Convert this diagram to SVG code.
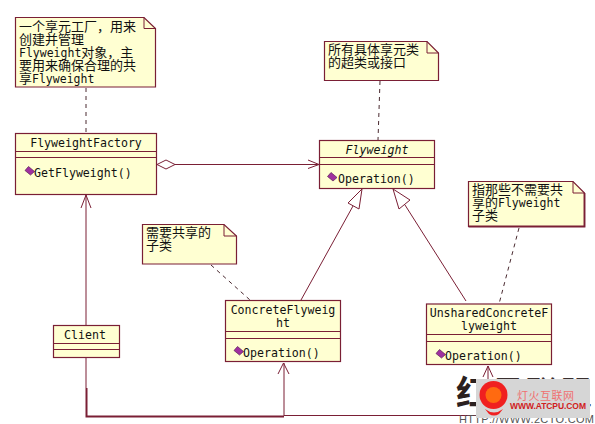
<svg xmlns="http://www.w3.org/2000/svg" width="595" height="424" viewBox="0 0 595 424">
<style>
.box{fill:#ffffd2;stroke:#7a1f35;stroke-width:1.2}
.ln{fill:none;stroke:#7a1f35;stroke-width:1}
.tri{fill:#fff;stroke:#7a1f35;stroke-width:1}
.dash{fill:none;stroke:#4a2a30;stroke-width:1;stroke-dasharray:4 4}
.t{font-family:"DejaVu Sans Mono","Noto Sans CJK SC",monospace;font-size:11.6px;fill:#111}
.n{font-family:"Noto Sans CJK SC","DejaVu Sans Mono",monospace;font-size:13px;fill:#111}
.l{font-family:"DejaVu Sans Mono",monospace;font-size:11.5px}
.m{text-anchor:middle}
.d{fill:#a030a0;stroke:#5a1f55;stroke-width:.7}
</style>
<defs>
<path id="op" class="d" d="M-1 -4.500L5 0.500L1 4L-4.500 -0.500Z"/>
</defs>
<rect width="595" height="424" fill="#fff"/>
<g id="connectors">
<path class="dash" d="M86 88V133"/>
<path class="dash" d="M380 81L378 140"/>
<path class="dash" d="M211 265L250 300"/>
<path class="dash" d="M519 228L499 304"/>
<path class="tri" d="M157 164.500L166 160L175 164.500L166 169Z"/>
<path class="ln" d="M175 164.500H318M308 160L319 164.500L308 168.500"/>
<path class="ln" d="M86 325V195M81 208L86 195L91 208"/>
<path class="ln" d="M301 300L353 206"/>
<path class="tri" d="M362 189L348 203L359 209Z"/>
<path class="ln" d="M466 301L405 205"/>
<path class="tri" d="M393 189L399 209L410 200Z"/>
<path class="ln" d="M86 357V388"/>
<path d="M86.500 388V416.500H284" fill="none" stroke="#7a1f35" stroke-width="2"/>
<path class="ln" d="M284 416V363M278 374L283.500 363L289 374"/>
<path class="ln" d="M284 415.500H488V366M483 377L488 366L493 377"/>
</g>
<g id="note-factory">
<path class="box" d="M15.500 17.500H144L155.500 28.500V87H15.500Z"/><path class="ln" d="M144 17.500V28.500H155.500"/>
<text class="n" x="19" y="31">一个享元工厂，用来</text>
<text class="n" x="19" y="44">创建并管理</text>
<text class="n" x="19" y="57"><tspan class="l">Flyweight</tspan>对象，主</text>
<text class="n" x="19" y="70">要用来确保合理的共</text>
<text class="n" x="19" y="83">享<tspan class="l">Flyweight</tspan></text>
</g>
<g id="note-flyweight">
<path class="box" d="M324.500 41.500H427L438.500 53V80.500H324.500Z"/><path class="ln" d="M427 41.500V53H438.500"/>
<text class="n" x="328" y="54">所有具体享元类</text>
<text class="n" x="328" y="67">的超类或接口</text>
</g>
<g id="note-unshared">
<path class="box" d="M468.500 181.500H573L584.500 193V226.500H468.500Z"/><path class="ln" d="M573 181.500V193H584.500"/>
<path d="M584.500 193V226.500H468.500" fill="none" stroke="#7a1f35" stroke-width="1.800"/>
<text class="n" x="472" y="194">指那些不需要共</text>
<text class="n" x="472" y="207">享的<tspan class="l">Flyweight</tspan></text>
<text class="n" x="472" y="220">子类</text>
</g>
<g id="note-concrete">
<path class="box" d="M142.500 224.500H224L236.500 236V264H142.500Z"/><path class="ln" d="M224 224.500V236H236.500"/>
<text class="n" x="146" y="237">需要共享的</text>
<text class="n" x="146" y="250">子类</text>
</g>
<g id="FlyweightFactory">
<rect class="box" x="15.500" y="133.500" width="141" height="61"/><path class="ln" d="M15.500 151.500H156.500M15.500 157.500H156.500"/>
<text class="t m" x="86" y="147">FlyweightFactory</text>
<use href="#op" x="29.500" y="171"/>
<text class="t" x="34" y="177">GetFlyweight()</text>
</g>
<g id="Flyweight">
<rect class="box" x="319.500" y="140.500" width="115" height="48"/><path class="ln" d="M319.500 157.500H434.500M319.500 164.500H434.500"/>
<text class="t m" x="377" y="154" font-style="italic">Flyweight</text>
<use href="#op" x="332" y="177"/>
<text class="t" x="338" y="183">Operation()</text>
</g>
<g id="ConcreteFlyweight">
<rect class="box" x="225.500" y="300.500" width="115" height="61"/><path class="ln" d="M225.500 331.500H340.500M225.500 338.500H340.500"/>
<text class="t m" x="283" y="314">ConcreteFlyweig</text>
<text class="t m" x="283" y="327">ht</text>
<use href="#op" x="238.500" y="351"/>
<text class="t" x="243" y="357">Operation()</text>
</g>
<g id="Client">
<rect class="box" x="53.500" y="325.500" width="66" height="32"/><path class="ln" d="M53.500 343.500H119.500M53.500 349.500H119.500"/>
<text class="t m" x="85" y="339">Client</text>
</g>
<g id="UnsharedConcreteFlyweight">
<rect class="box" x="426.500" y="304" width="125" height="60.500"/><path class="ln" d="M426.500 334.500H551.500M426.500 341.500H551.500"/>
<text class="t m" x="489" y="317">UnsharedConcreteF</text>
<text class="t m" x="489" y="330">lyweight</text>
<use href="#op" x="440.500" y="354"/>
<text class="t" x="445" y="360">Operation()</text>
</g>
<g id="watermark">
<text x="456" y="405" font-family="Noto Sans CJK SC,sans-serif" font-size="34" font-weight="700" fill="#2a2020">红</text>
<text x="492" y="404" font-family="Noto Sans CJK SC,sans-serif" font-size="32" fill="#3a3030" letter-spacing="2">黑联盟</text>
<text x="459" y="423" font-family="Liberation Sans,sans-serif" font-size="11" fill="#555" textLength="135">HTTP://WWW.2CTO.COM</text>
<rect x="476" y="379" width="114" height="39" fill="#d6d6d6"/>
<path d="M485 409Q494 416 503 409L499 414Q494 417 489 414Z" fill="#f02020"/>
<circle cx="493.500" cy="395" r="14" fill="#f02020"/>
<circle cx="493.500" cy="395" r="8" fill="#ff6a10"/>
<text x="517" y="400" font-family="Noto Sans CJK SC,sans-serif" font-size="11" fill="#f07070" textLength="57">灯火互联网</text>
<text x="510" y="409" font-family="Liberation Sans,sans-serif" font-size="8.500" font-weight="700" fill="#d02020" textLength="76">WWW.ATCPU.COM</text>
</g>
</svg>
